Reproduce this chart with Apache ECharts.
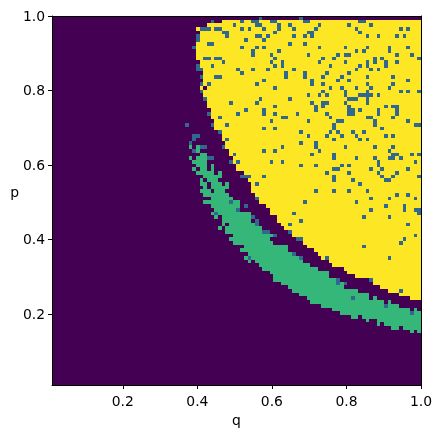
<!DOCTYPE html>
<html><head><meta charset="utf-8">
<style>html,body{margin:0;padding:0;background:#fff}#c{width:442px;height:438px}</style>
<script src="https://cdn.jsdelivr.net/npm/echarts@6/dist/echarts.min.js"></script>
</head><body><div id="c"></div>
<script>
// Grid: 100 x 100 cells, row 0 at the top, column 0 at the left.
const tickLabels = [0.2, 0.4, 0.6, 0.8, 1.0];
const palette = ['#440154', '#31688e', '#35b779', '#fde725'];
// first yellow column for rows 0..76
const yellowStart = [100,46,42,39,40,40,40,39,39,39,39,39,40,40,41,41,41,41,41,40,41,41,42,42,42,43,43,43,44,44,44,46,46,46,47,47,48,48,49,49,50,50,52,54,53,54,54,54,55,56,56,58,59,59,61,61,62,63,65,65,68,68,69,71,72,73,75,76,79,80,82,87,87,89,91,94,97];
// purple holes inside the yellow area [row, col]
const purpleCells = [[19,41]];
// green runs [row, from, to]
const greenRuns = [[35,37,37],[35,39,39],[36,39,39],[37,40,41],[38,37,37],[38,39,41],[39,38,41],[40,39,41],[40,43,43],[41,38,38],[41,40,41],[41,43,43],[42,39,43],[42,45,45],[43,41,45],[44,40,40],[44,42,44],[45,40,41],[45,43,45],[45,47,47],[46,41,41],[46,43,47],[47,40,42],[47,44,46],[48,41,47],[49,43,48],[50,41,47],[50,49,50],[51,43,50],[52,44,49],[53,43,43],[53,45,53],[54,44,44],[54,46,53],[55,46,53],[56,46,46],[56,48,54],[57,45,45],[57,47,56],[58,47,56],[59,49,59],[60,48,58],[61,49,59],[62,52,63],[63,51,63],[64,53,64],[65,52,52],[65,54,66],[66,53,53],[66,55,67],[67,56,69],[68,57,71],[69,59,74],[70,60,74],[71,60,76],[72,62,76],[72,78,78],[73,64,78],[74,65,82],[75,67,85],[76,69,85],[76,87,87],[77,70,89],[77,91,91],[78,73,93],[79,76,96],[79,98,98],[80,78,96],[80,98,99],[81,81,82],[81,84,99],[82,85,85],[82,88,99],[83,88,88],[83,90,99],[84,92,93],[84,95,99],[85,97,97],[85,99,99]];
// blue cells: [row, col, col, ...]
const blueRows = [
[0,56,67],[1,43,51,54,55,59,60,68,69,83,84],[2,49,55,56,61,64,72,80,86],[3,40,41,42,44,45,51,53,57,61,65,71,82,94,96],
[4,46,47,60,69,70,83],[5,39,47,55,56,58,65,68,70,85,88,93,95],[6,39,52,57],[7,42,43,64,68],[8,38,51,55,57,72,79,85,91,96],
[9,54,61,82,84,91],[10,54,59,69,77,79,80,93,97],[11,41,42,44,45,60,73,76,87,89,99],[12,46,59,62,72,79,85,87,90,93],
[13,39,43,60,62,75,83,85,90],[14,39,40,50,54,58,65,82,86,88],[15,51,63,68,74,80],[16,40,44,45,63,68,73,78,85,92],
[17,57,70,77,80,96],[18,40,42,55,70,73,85,92],[19,60,75,78,82,86,91],[20,40,73,79,85,94,96,99],[21,69,72,74,79,83,84,85,86,88],
[22,41,56,64,80,81,82,85],[23,48,55,70,73,74,79,85],[24,60,71,73,80,90,92,93],[25,52,57,71,80,81,83,88,93],
[26,42,50,57,60,66,74,80,81,88,93],[27,45,62,63,75,85,86,92],[28,59,69,77,78,87,96],[29,36,43,47,76,87,98,99],[30,57,60,76,89],
[31,45,67,75,77,81,84],[32,38,39,69,74,78,82,90,92],[33,38,47,76,83,85],[34,37,67,71],[35,40,41,46,62,71,79,87,92],
[36,38,57,60,72,91],[37,49,70,76,92,93,97,99],[38,42,43,76,82,87,91,92,94],[39,48,50,59,62,88,98],[40,67,71,78,80,88],
[41,76,77,86,89,96],[42,74,80,88,93],[43,51,52,53,57,76,89,92,99],[44,76,81,90,91],[45,55,83],[47,71,76,80,85],[48,93,96],
[49,55,86,91,98],[50,48,68,82],[51,52,90,95],[52,50,86,95,98,99],[53,44,65,99],[54,54,84,91],[55,55,67],[56,55,64,96],
[58,57,58,64],[59,60,98],[60,66,67,95],[61,94],[62,84],[64,65],[65,53,67,74,91],[71,77,86],[72,77,79],[74,94],[76,81],[78,90],[80,97]];

const N = 100, lo = 0.01, hi = 1, step = (hi - lo) / N;
const grid = [];
for (let t = 0; t < N; t++) {
  const row = new Array(N).fill(0);
  if (t < yellowStart.length) for (let c = yellowStart[t]; c < N; c++) row[c] = 3;
  grid.push(row);
}
purpleCells.forEach(([t, c]) => { grid[t][c] = 0; });
greenRuns.forEach(([t, a, b]) => { for (let c = a; c <= b; c++) grid[t][c] = 2; });
blueRows.forEach(([t, ...cols]) => cols.forEach(c => { grid[t][c] = 1; }));

const cells = [];
grid.forEach((row, t) => row.forEach((v, c) => {
  cells.push([lo + c * step, lo + (c + 1) * step, hi - (t + 1) * step, hi - t * step, v]);
}));

const font = 'DejaVu Sans';
const valueAxis = (name, extra, labelExtra, nameExtra) => Object.assign({
  type: 'value', min: lo, max: hi, z: 5, name, nameMoveOverlap: false,
  nameLocation: 'middle', nameTextStyle: Object.assign({color: '#000', fontFamily: font, fontSize: 13.9}, nameExtra),
  splitLine: {show: false},
  axisLine: {show: true, onZero: false, lineStyle: {color: '#000', width: 1}},
  axisTick: {show: true, length: 4, customValues: tickLabels, lineStyle: {color: '#000', width: 1}},
  axisLabel: Object.assign({show: true, customValues: tickLabels, color: '#000', fontFamily: font, fontSize: 13.9, margin: 7,
    showMinLabel: true, showMaxLabel: true, hideOverlap: false, formatter: v => v.toFixed(1)}, labelExtra)
}, extra);
const frameAxis = (type, position) => ({
  type: 'value', min: lo, max: hi, position, z: 5,
  splitLine: {show: false}, axisTick: {show: false}, axisLabel: {show: false},
  axisLine: {show: true, onZero: false, lineStyle: {color: '#000', width: 1}}
});

const chart = echarts.init(document.getElementById('c'), null, {renderer: 'canvas'});
chart.setOption({
  animation: false,
  backgroundColor: '#fff',
  grid: {left: 52, right: 21, top: 16, bottom: 53, containLabel: false},
  xAxis: [valueAxis('q', {position: 'bottom', nameGap: 29}, {margin: 10}), frameAxis('x', 'top')],
  yAxis: [valueAxis('p', {position: 'left', nameGap: 33, nameRotate: 0}, {verticalAlign: 'bottom', padding: [0, 0, -8, 0]}, {verticalAlign: 'bottom'}), frameAxis('y', 'right')],
  series: [{
    type: 'custom', coordinateSystem: 'cartesian2d', xAxisIndex: 0, yAxisIndex: 0,
    silent: true, progressive: 0, clip: true,
    encode: {x: [0, 1], y: [2, 3]},
    data: cells,
    renderItem: (params, api) => {
      const a = api.coord([api.value(0), api.value(3)]);
      const b = api.coord([api.value(1), api.value(2)]);
      const x0 = Math.round(a[0]), y0 = Math.round(a[1]);
      return {type: 'rect', shape: {x: x0, y: y0, width: Math.round(b[0]) - x0, height: Math.round(b[1]) - y0},
        style: {fill: palette[api.value(4)]}};
    }
  }]
});
</script></body></html>
